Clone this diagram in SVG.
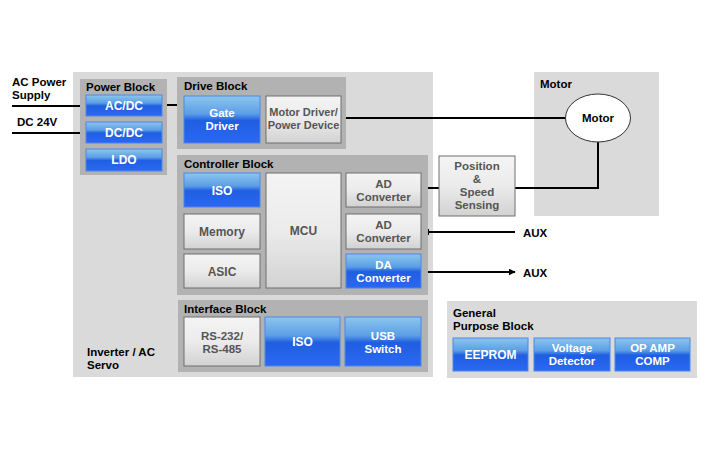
<svg xmlns="http://www.w3.org/2000/svg" width="710" height="450" viewBox="0 0 710 450">
<defs>
<linearGradient id="gBlue" x1="0" y1="0" x2="0" y2="1">
<stop offset="0" stop-color="#8cc6ee"/>
<stop offset="0.38" stop-color="#5c9ee6"/>
<stop offset="0.52" stop-color="#1f5fe2"/>
<stop offset="1" stop-color="#2b68f2"/>
</linearGradient>
<linearGradient id="gGray" x1="0" y1="0" x2="0" y2="1">
<stop offset="0" stop-color="#f4f4f4"/>
<stop offset="0.5" stop-color="#ebebeb"/>
<stop offset="1" stop-color="#d2d2d2"/>
</linearGradient>
<marker id="arr" viewBox="0 0 10 10" refX="9" refY="5" markerWidth="7" markerHeight="7" markerUnits="userSpaceOnUse" orient="auto">
<path d="M0,0 L10,5 L0,10 z" fill="#000"/>
</marker>
</defs>
<style>
text{font-family:"Liberation Sans",Arial,sans-serif;font-weight:bold;font-size:11.5px}
.area{fill:#dadada}
.blk{fill:#b2b2b2}
.blue{fill:url(#gBlue);stroke:#4f86e6;stroke-width:1}
.gray{fill:url(#gGray);stroke:#6e6e6e;stroke-width:1}
.tb{fill:#fff;text-anchor:middle;font-size:12px}
.tg{fill:#555;text-anchor:middle;font-size:12px}
.tb2{fill:#fff;text-anchor:middle}
.tg2{fill:#555;text-anchor:middle}
.tk{fill:#000}
.ln{stroke:#000;stroke-width:2;fill:none}
</style>
<rect width="710" height="450" fill="#fff"/>

<g id="inverter">
<rect class="area" x="73" y="72" width="360" height="305"/>
<text class="tk" x="87" y="356">Inverter / AC</text>
<text class="tk" x="87" y="369">Servo</text>
</g>

<g id="motor-area">
<rect class="area" x="534" y="72" width="125" height="144"/>
<text class="tk" x="540" y="88">Motor</text>
</g>

<g id="general-block">
<rect class="area" x="447" y="301" width="250" height="77"/>
<text class="tk" x="453" y="317">General</text>
<text class="tk" x="453" y="330">Purpose Block</text>
</g>

<g id="connectors">
<line class="ln" x1="12" y1="106" x2="80" y2="106"/>
<line class="ln" x1="12" y1="133" x2="80" y2="133"/>
<line class="ln" x1="167" y1="105" x2="184" y2="105"/>
<line class="ln" x1="341" y1="118" x2="566" y2="118"/>
<line class="ln" x1="421" y1="188" x2="439" y2="188"/>
<polyline class="ln" points="515,188 598,188 598,142"/>
<line class="ln" x1="515" y1="232" x2="423" y2="232" marker-end="url(#arr)"/>
<line class="ln" x1="421" y1="272" x2="515" y2="272" marker-end="url(#arr)"/>
</g>

<g id="labels">
<text class="tk" x="12" y="86">AC Power</text>
<text class="tk" x="12" y="99">Supply</text>
<text class="tk" x="17" y="126">DC 24V</text>
<text class="tk" x="523" y="237">AUX</text>
<text class="tk" x="523" y="277">AUX</text>
</g>

<g id="power-block">
<rect class="blk" x="80" y="79" width="87" height="96"/>
<text class="tk" x="86" y="91">Power Block</text>
</g>
<g id="acdc"><rect class="blue" x="86" y="95" width="76" height="21"/><text class="tb" x="124" y="110">AC/DC</text></g>
<g id="dcdc"><rect class="blue" x="86" y="122" width="76" height="21"/><text class="tb" x="124" y="137">DC/DC</text></g>
<g id="ldo"><rect class="blue" x="86" y="149" width="76" height="22"/><text class="tb" x="124" y="164">LDO</text></g>

<g id="drive-block">
<rect class="blk" x="177" y="77" width="169" height="72"/>
<text class="tk" x="184" y="90">Drive Block</text>
</g>
<g id="gate-driver"><rect class="blue" x="184" y="96" width="76" height="47"/><text class="tb2" x="222" y="117">Gate</text><text class="tb2" x="222" y="130">Driver</text></g>
<g id="motor-driver"><rect class="gray" x="266" y="96" width="75" height="47"/><text class="tg2" x="303.5" y="116" style="font-size:11px">Motor Driver/</text><text class="tg2" x="303.5" y="129" style="font-size:11px">Power Device</text></g>

<g id="controller-block">
<rect class="blk" x="177" y="155" width="251" height="140"/>
<text class="tk" x="184" y="168">Controller Block</text>
</g>
<g id="iso-ctrl"><rect class="blue" x="184" y="173" width="76" height="34"/><text class="tb" x="222" y="195">ISO</text></g>
<g id="memory"><rect class="gray" x="184" y="214" width="76" height="35"/><text class="tg" x="222" y="236">Memory</text></g>
<g id="asic"><rect class="gray" x="184" y="254" width="76" height="34"/><text class="tg" x="222" y="276">ASIC</text></g>
<g id="mcu"><rect class="gray" x="266" y="173" width="75" height="115"/><text class="tg" x="303.5" y="235">MCU</text></g>
<g id="ad1"><rect class="gray" x="346" y="173" width="75" height="34"/><text class="tg2" x="383.5" y="188">AD</text><text class="tg2" x="383.5" y="201">Converter</text></g>
<g id="ad2"><rect class="gray" x="346" y="214" width="75" height="35"/><text class="tg2" x="383.5" y="229">AD</text><text class="tg2" x="383.5" y="242">Converter</text></g>
<g id="da"><rect class="blue" x="346" y="254" width="75" height="34"/><text class="tb2" x="383.5" y="269">DA</text><text class="tb2" x="383.5" y="282">Converter</text></g>

<g id="interface-block">
<rect class="blk" x="178" y="300" width="250" height="72"/>
<text class="tk" x="184" y="313">Interface Block</text>
</g>
<g id="rs232"><rect class="gray" x="184" y="317" width="76" height="49"/><text class="tg2" x="222" y="340">RS-232/</text><text class="tg2" x="222" y="353">RS-485</text></g>
<g id="iso-if"><rect class="blue" x="265" y="317" width="75" height="49"/><text class="tb" x="302.5" y="346">ISO</text></g>
<g id="usb"><rect class="blue" x="345" y="317" width="76" height="49"/><text class="tb2" x="383" y="340">USB</text><text class="tb2" x="383" y="353">Switch</text></g>

<g id="sensing"><rect class="gray" x="439" y="156" width="76" height="60"/><text class="tg2" x="477" y="170">Position</text><text class="tg2" x="477" y="183">&amp;</text><text class="tg2" x="477" y="196">Speed</text><text class="tg2" x="477" y="209">Sensing</text></g>

<g id="motor"><ellipse cx="598" cy="118" rx="32.5" ry="24" fill="#fff" stroke="#333" stroke-width="1"/><text class="tk" x="598" y="122" text-anchor="middle">Motor</text></g>

<g id="eeprom"><rect class="blue" x="453" y="338" width="75" height="33"/><text class="tb" x="490.5" y="359">EEPROM</text></g>
<g id="voltage"><rect class="blue" x="534" y="338" width="76" height="33"/><text class="tb2" x="572" y="352">Voltage</text><text class="tb2" x="572" y="365">Detector</text></g>
<g id="opamp"><rect class="blue" x="615" y="338" width="75" height="33"/><text class="tb2" x="652.5" y="352">OP AMP</text><text class="tb2" x="652.5" y="365">COMP</text></g>
</svg>
